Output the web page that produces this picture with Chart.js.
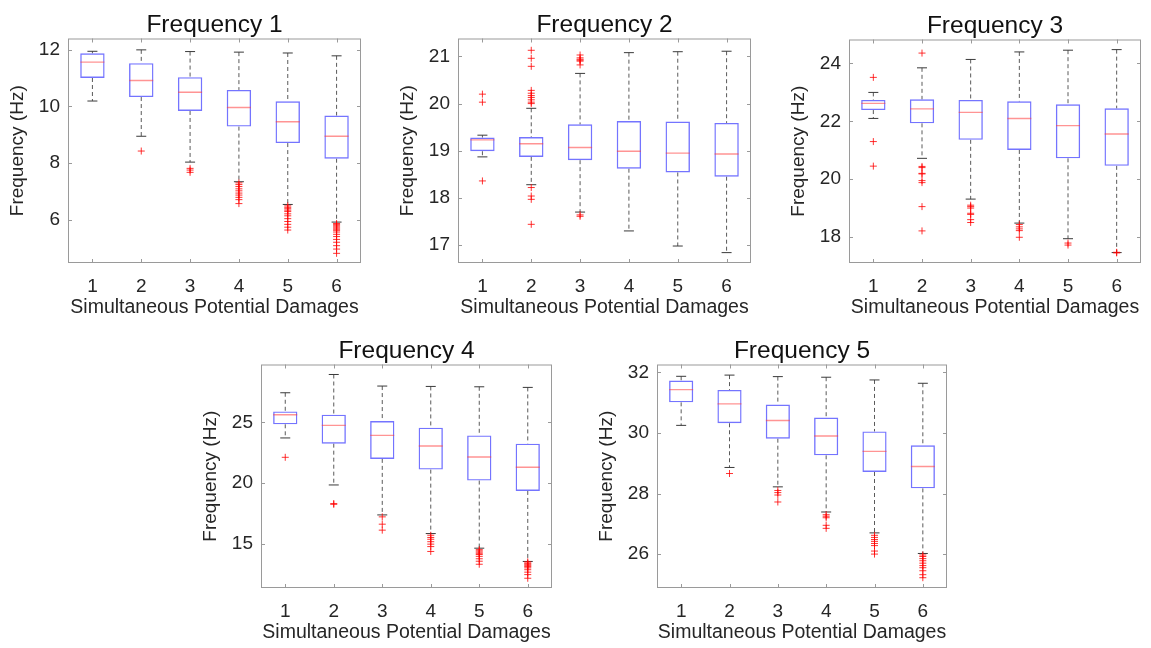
<!DOCTYPE html>
<html>
<head>
<meta charset="utf-8">
<script src="https://cdn.jsdelivr.net/npm/chart.js@4"></script>
<style>
  html, body { margin: 0; padding: 0; background: #fff; overflow: hidden; }
  #page { position: relative; width: 1151px; height: 648px; overflow: hidden; }
  .panel { position: absolute; }
</style>
</head>
<body>
<div id="page"></div>
<script>
// categories
const groups = ['1', '2', '3', '4', '5', '6'];

// Frequency 1
const f1Upper = [11.94, 11.99, 11.93, 11.91, 11.88, 11.78];
const f1Q3 = [11.87, 11.52, 11.03, 10.58, 10.18, 9.68];
const f1Median = [11.56, 10.91, 10.50, 9.96, 9.46, 8.95];
const f1Q1 = [11.00, 10.33, 9.84, 9.29, 8.71, 8.16];
const f1Lower = [10.19, 8.95, 8.04, 7.35, 6.55, 5.93];
const f1Outliers = [
  [],
  [8.43],
  [7.82, 7.76, 7.68],
  [7.31, 7.25, 7.18, 7.10, 7.03, 6.95, 6.88, 6.80, 6.72, 6.58],
  [6.50, 6.45, 6.40, 6.35, 6.30, 6.22, 6.15, 6.05, 5.95, 5.85, 5.75, 5.65],
  [5.88, 5.84, 5.80, 5.76, 5.72, 5.68, 5.64, 5.58, 5.50, 5.42, 5.32, 5.22, 5.10, 4.98, 4.83]
];
const f1Ticks = [6, 8, 10, 12];

// Frequency 2
const f2Upper = [19.33, 19.90, 20.64, 21.08, 21.10, 21.11];
const f2Q3 = [19.28, 19.29, 19.56, 19.63, 19.62, 19.59];
const f2Median = [19.23, 19.15, 19.07, 18.99, 18.95, 18.93];
const f2Q1 = [18.99, 18.87, 18.80, 18.62, 18.54, 18.45];
const f2Lower = [18.87, 18.28, 17.70, 17.30, 16.98, 16.84];
const f2Outliers = [
  [20.20, 20.03, 18.36],
  [21.13, 20.96, 20.79, 20.28, 20.22, 20.17, 20.13, 20.08, 20.03, 20.00, 18.22, 18.04, 17.97, 17.44],
  [21.03, 20.97, 20.94, 20.92, 20.90, 20.82, 17.64, 17.61],
  [],
  [],
  []
];
const f2Ticks = [17, 18, 19, 20, 21];

// Frequency 3
const f3Upper = [23.00, 23.85, 24.14, 24.40, 24.46, 24.48];
const f3Q3 = [22.74, 22.76, 22.74, 22.69, 22.59, 22.45];
const f3Median = [22.62, 22.43, 22.31, 22.10, 21.85, 21.56];
const f3Q1 = [22.39, 21.93, 21.36, 21.01, 20.72, 20.46];
const f3Lower = [22.10, 20.72, 19.31, 18.48, 17.94, 17.46];
const f3Outliers = [
  [23.52, 21.30, 20.45],
  [24.36, 20.44, 20.40, 20.20, 20.18, 19.95, 19.88, 19.05, 18.21],
  [19.10, 19.05, 19.00, 18.82, 18.78, 18.60, 18.50],
  [18.43, 18.35, 18.28, 18.22, 17.99],
  [17.79, 17.72],
  [17.47, 17.45]
];
const f3Ticks = [18, 20, 22, 24];

// Frequency 4
const f4Upper = [27.43, 28.93, 27.98, 27.95, 27.92, 27.87];
const f4Q3 = [25.90, 25.63, 25.11, 24.56, 23.93, 23.25];
const f4Median = [25.63, 24.75, 23.93, 23.06, 22.16, 21.31];
const f4Q1 = [24.84, 23.25, 22.00, 21.12, 20.22, 19.37];
const f4Lower = [23.72, 19.86, 17.40, 15.87, 14.67, 13.58];
const f4Outliers = [
  [22.13],
  [18.33, 18.27],
  [17.24, 16.64, 16.15],
  [15.73, 15.55, 15.40, 15.20, 15.00, 14.80, 14.40],
  [14.55, 14.45, 14.35, 14.25, 14.15, 14.00, 13.80, 13.60, 13.35],
  [13.55, 13.45, 13.38, 13.30, 13.22, 13.15, 13.05, 12.90, 12.70, 12.50, 12.20]
];
const f4Ticks = [15, 20, 25];

// Frequency 5
const f5Upper = [31.87, 31.91, 31.86, 31.84, 31.75, 31.64];
const f5Q3 = [31.73, 31.42, 30.94, 30.51, 30.05, 29.59];
const f5Median = [31.43, 30.96, 30.41, 29.90, 29.39, 28.89];
const f5Q1 = [31.01, 30.32, 29.81, 29.26, 28.71, 28.17];
const f5Lower = [30.25, 28.86, 28.22, 27.39, 26.70, 26.02];
const f5Outliers = [
  [],
  [28.66],
  [28.10, 28.03, 27.95, 27.72],
  [27.30, 27.25, 27.20, 26.95, 26.85],
  [26.62, 26.55, 26.48, 26.42, 26.35, 26.28, 26.10, 26.00],
  [25.97, 25.92, 25.85, 25.78, 25.70, 25.62, 25.55, 25.45, 25.32, 25.22]
];
const f5Ticks = [26, 28, 30, 32];

const panels = [
  { title: 'Frequency 1', upper: f1Upper, q3: f1Q3, median: f1Median, q1: f1Q1, lower: f1Lower, outliers: f1Outliers, ticks: f1Ticks, yMin: 4.49, yMax: 12.39, left: 68, top: 38, w: 293, h: 225 },
  { title: 'Frequency 2', upper: f2Upper, q3: f2Q3, median: f2Median, q1: f2Q1, lower: f2Lower, outliers: f2Outliers, ticks: f2Ticks, yMin: 16.62, yMax: 21.38, left: 458, top: 38, w: 293, h: 225 },
  { title: 'Frequency 3', upper: f3Upper, q3: f3Q3, median: f3Median, q1: f3Q1, lower: f3Lower, outliers: f3Outliers, ticks: f3Ticks, yMin: 17.1, yMax: 24.83, left: 849, top: 39, w: 292, h: 224 },
  { title: 'Frequency 4', upper: f4Upper, q3: f4Q3, median: f4Median, q1: f4Q1, lower: f4Lower, outliers: f4Outliers, ticks: f4Ticks, yMin: 11.4, yMax: 29.75, left: 261, top: 364, w: 291, h: 224 },
  { title: 'Frequency 5', upper: f5Upper, q3: f5Q3, median: f5Median, q1: f5Q1, lower: f5Lower, outliers: f5Outliers, ticks: f5Ticks, yMin: 24.88, yMax: 32.26, left: 657, top: 364, w: 290, h: 224 }
];

// the x axis keeps ~14px of room on the right for its last label
const AXIS_W = 68, RIGHT_PAD = 14, TITLE_H = 38, XAXIS_H = 62;
const textColor = '#262626';
const fontFamily = '"Liberation Sans", Arial, sans-serif';

// MATLAB-like box frame with inward tick marks
const framePlugin = {
  id: 'frame',
  afterDraw(chart) {
    const { ctx, chartArea: a, scales } = chart;
    ctx.save();
    ctx.strokeStyle = '#9a9a9a';
    ctx.lineWidth = 1;
    ctx.strokeRect(a.left + 0.5, a.top + 0.5, a.right - a.left - 1, a.bottom - a.top - 1);
    ctx.beginPath();
    scales.y.ticks.forEach(t => {
      const y = Math.round(scales.y.getPixelForValue(t.value)) + 0.5;
      ctx.moveTo(a.left, y); ctx.lineTo(a.left + 4, y);
      ctx.moveTo(a.right, y); ctx.lineTo(a.right - 4, y);
    });
    scales.x.ticks.forEach((t, i) => {
      const x = Math.round(scales.x.getPixelForTick(i)) + 0.5;
      ctx.moveTo(x, a.bottom); ctx.lineTo(x, a.bottom - 4);
      ctx.moveTo(x, a.top); ctx.lineTo(x, a.top + 4);
    });
    ctx.stroke();
    ctx.restore();
  }
};

const page = document.getElementById('page');

panels.forEach(p => {
  const div = document.createElement('div');
  div.className = 'panel';
  const cw = AXIS_W + p.w + RIGHT_PAD;
  const ch = TITLE_H + p.h + XAXIS_H;
  div.style.left = (p.left - AXIS_W) + 'px';
  div.style.top = (p.top - TITLE_H) + 'px';
  div.style.width = cw + 'px';
  div.style.height = ch + 'px';
  const canvas = document.createElement('canvas');
  canvas.width = cw;
  canvas.height = ch;
  div.appendChild(canvas);
  page.appendChild(div);

  const whiskers = [];
  const caps = [];
  const medians = [];
  const outliers = [];
  groups.forEach((g, i) => {
    whiskers.push({ x: g, y: p.upper[i] }, { x: g, y: p.q3[i] }, { x: g, y: null },
                  { x: g, y: p.q1[i] }, { x: g, y: p.lower[i] }, { x: g, y: null });
    caps.push({ x: g, y: p.upper[i] }, { x: g, y: p.lower[i] });
    medians.push({ x: g, y: p.median[i] });
    p.outliers[i].forEach(v => outliers.push({ x: g, y: v }));
  });

  new Chart(canvas.getContext('2d'), {
    type: 'bar',
    data: {
      labels: groups,
      datasets: [
        {
          type: 'bar',
          data: p.q1.map((v, i) => [v, p.q3[i]]),
          backgroundColor: 'rgba(0,0,0,0)',
          borderColor: 'rgba(70,70,255,0.75)',
          borderWidth: 1.4,
          borderSkipped: false,
          barPercentage: 0.5,
          categoryPercentage: 1,
          grouped: false,
          order: 3
        },
        {
          type: 'line',
          data: whiskers,
          borderColor: '#5a5a5a',
          borderWidth: 1,
          borderDash: [4, 3],
          pointRadius: 0,
          spanGaps: false,
          order: 4
        },
        {
          type: 'line',
          data: caps,
          showLine: false,
          pointStyle: 'line',
          pointRadius: 5,
          pointBorderColor: '#3a3a3a',
          pointBorderWidth: 1,
          order: 2
        },
        {
          type: 'line',
          data: medians,
          showLine: false,
          pointStyle: 'line',
          pointRadius: 12,
          pointBorderColor: 'rgba(255,60,60,0.55)',
          pointBorderWidth: 1.4,
          order: 1
        },
        {
          type: 'line',
          data: outliers,
          showLine: false,
          pointStyle: 'cross',
          pointRadius: 3.5,
          pointBorderColor: 'rgba(255,0,0,0.8)',
          pointBorderWidth: 1,
          order: 0
        }
      ]
    },
    options: {
      responsive: false,
      animation: false,
      events: [],
      layout: { padding: { left: 0, right: RIGHT_PAD, top: 0, bottom: 0 } },
      plugins: {
        legend: { display: false },
        tooltip: { enabled: false },
        title: {
          display: true,
          fullSize: false,
          text: p.title,
          color: '#111',
          font: { family: fontFamily, size: 24.5, weight: 'normal', lineHeight: 1.0 },
          padding: { top: 12.5, bottom: 1.5 }
        }
      },
      scales: {
        x: {
          type: 'category',
          offset: true,
          grid: { display: false, drawTicks: false },
          border: { display: false },
          ticks: { color: textColor, font: { family: fontFamily, size: 19 }, padding: 12 },
          title: {
            display: true,
            text: 'Simultaneous Potential Damages',
            color: textColor,
            font: { family: fontFamily, size: 19.5 },
            padding: { top: 0, bottom: 6 }
          },
          afterFit(s) { s.height = XAXIS_H; }
        },
        y: {
          type: 'linear',
          min: p.yMin,
          max: p.yMax,
          grid: { display: false, drawTicks: false },
          border: { display: false },
          afterBuildTicks(s) { s.ticks = p.ticks.map(v => ({ value: v })); },
          ticks: { color: textColor, font: { family: fontFamily, size: 19 }, padding: 8 },
          title: {
            display: true,
            text: 'Frequency (Hz)',
            color: textColor,
            font: { family: fontFamily, size: 19 },
            padding: { top: 6, bottom: 0 }
          },
          afterFit(s) { s.width = AXIS_W; }
        }
      }
    },
    plugins: [framePlugin]
  });
});
</script>
</body>
</html>
